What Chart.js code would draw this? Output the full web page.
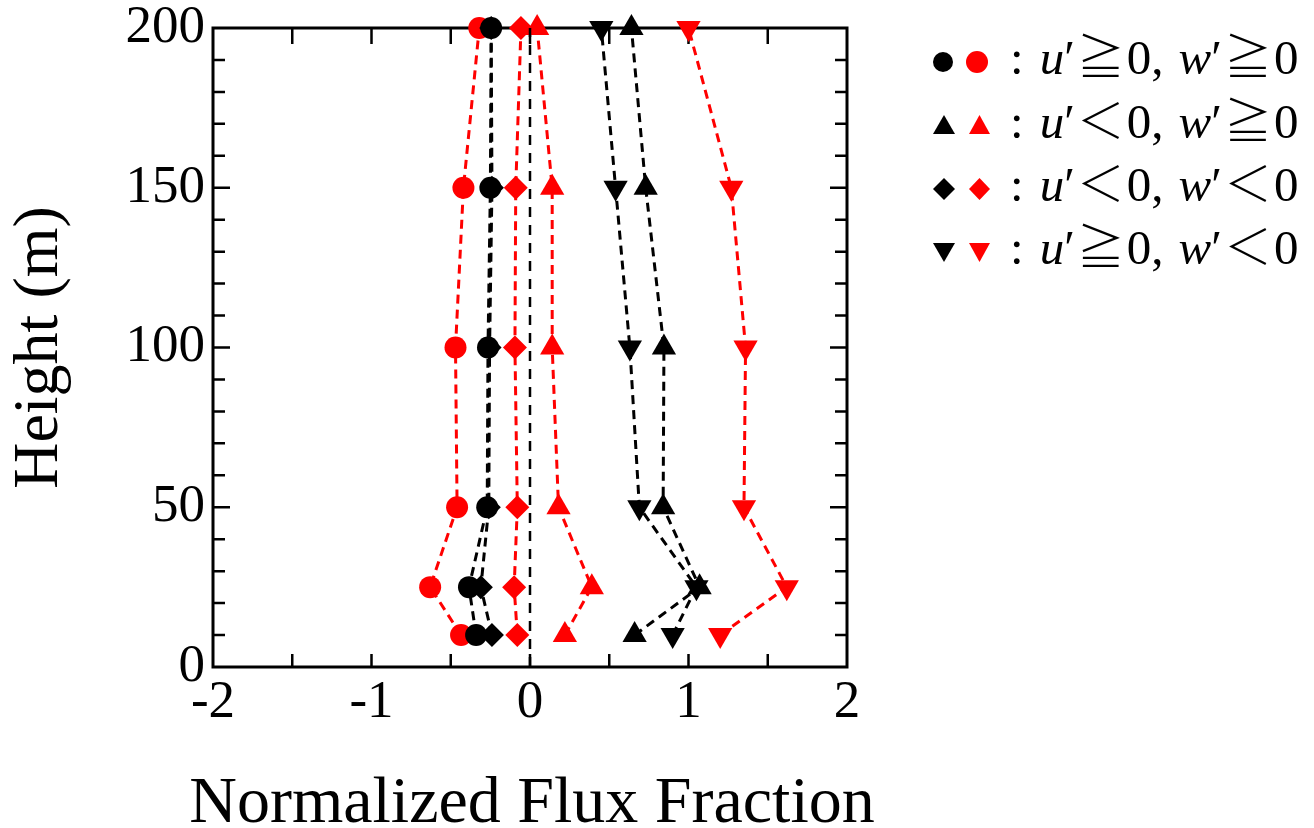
<!DOCTYPE html>
<html>
<head>
<meta charset="utf-8">
<script src="https://cdn.jsdelivr.net/npm/chart.js@4/dist/chart.umd.min.js"></script>
<style>
  html, body { margin: 0; padding: 0; background: #fff; }
  #wrap { position: relative; width: 1314px; height: 828px; overflow: hidden; }
  #legend { position: absolute; left: 0; top: 0; font-family: 'Liberation Serif', 'DejaVu Serif', serif; color: #000; }
  .mk { position: absolute; }
  .circle { border-radius: 50%; }
  .up { clip-path: polygon(50% 0, 100% 100%, 0 100%); }
  .down { clip-path: polygon(0 0, 100% 0, 50% 100%); }
  .diam { clip-path: polygon(50% 0, 100% 50%, 50% 100%, 0 50%); }
  .lbl { position: absolute; left: 1010px; font-size: 49px; line-height: 48px; white-space: nowrap; }
  .lbl i { font-style: italic; }
  .col { margin-right: 16px; }
  .sym { font-family: 'Noto Sans CJK JP', 'DejaVu Sans', sans-serif; font-size: 48px; font-weight: 300; margin: 0 2px 0 2px; }
  .cm { margin-right: 15px; }
</style>
</head>
<body>
<div id="wrap">
  <canvas id="myChart" width="1314" height="828"></canvas>
  <div id="legend">
    <div class="mk circle" style="left:933px;top:52px;width:20px;height:20px;background:#000"></div>
    <div class="mk circle" style="left:966px;top:51px;width:22px;height:22px;background:#f00"></div>
    <div class="lbl" style="top:29px"><span class="col">:</span><i>u</i>′<span class="sym">≧</span>0<span class="cm">,</span><i>w</i>′<span class="sym">≧</span>0</div>

    <div class="mk up" style="left:933px;top:115px;width:22px;height:19px;background:#000"></div>
    <div class="mk up" style="left:969px;top:115px;width:21px;height:19px;background:#f00"></div>
    <div class="lbl" style="top:93px"><span class="col">:</span><i>u</i>′<span class="sym">＜</span>0<span class="cm">,</span><i>w</i>′<span class="sym">≧</span>0</div>

    <div class="mk diam" style="left:933px;top:178px;width:22px;height:22px;background:#000"></div>
    <div class="mk diam" style="left:969px;top:178px;width:21px;height:22px;background:#f00"></div>
    <div class="lbl" style="top:156px"><span class="col">:</span><i>u</i>′<span class="sym">＜</span>0<span class="cm">,</span><i>w</i>′<span class="sym">＜</span>0</div>

    <div class="mk down" style="left:933px;top:243px;width:22px;height:19px;background:#000"></div>
    <div class="mk down" style="left:969px;top:243px;width:21px;height:19px;background:#f00"></div>
    <div class="lbl" style="top:219px"><span class="col">:</span><i>u</i>′<span class="sym">≧</span>0<span class="cm">,</span><i>w</i>′<span class="sym">＜</span>0</div>
  </div>
</div>
<script>
// heights of the measurements (m)
const heights = [10, 25, 50, 100, 150, 200];

// black series
const blackCircle = [-0.34, -0.385, -0.27, -0.265, -0.25, -0.245];
const blackUp = [0.66, 1.07, 0.84, 0.845, 0.73, 0.64];
const blackDiamond = [-0.24, -0.31, -0.26, -0.255, -0.24, -0.245];
const blackDown = [0.90, 1.05, 0.69, 0.63, 0.54, 0.45];

// red series
const redCircle = [-0.435, -0.63, -0.46, -0.47, -0.42, -0.32];
const redUp = [0.22, 0.39, 0.18, 0.14, 0.14, 0.045];
const redDiamond = [-0.08, -0.10, -0.08, -0.095, -0.09, -0.057];
const redDown = [1.20, 1.62, 1.35, 1.36, 1.27, 1.00];

// zero reference line
const zeroX = [0, 0];
const zeroY = [0, 200];

const FONT = "'Liberation Serif', 'Times New Roman', serif";
const xTitle = 'Normalized Flux Fraction';

function series(vals, color, style, radius, rotation) {
    return {
        data: vals.map((v, i) => ({ x: v, y: heights[i] })),
        borderColor: color,
        backgroundColor: color,
        borderWidth: 3,
        borderDash: [9, 6],
        pointStyle: style,
        pointRadius: radius,
        pointRotation: rotation || 0,
        pointBorderWidth: 0,
        pointBorderColor: color,
        pointBackgroundColor: color,
        showLine: true,
        tension: 0,
        clip: false,
    };
}

// frame, inward ticks and the x title (chart.js squeezes it to the axis width)
const frameTicks = {
    id: 'frameTicks',
    beforeDatasetsDraw(chart) {
        const { ctx, chartArea: a, scales: { x, y } } = chart;
        ctx.save();
        ctx.strokeStyle = '#000';
        ctx.lineWidth = 2.5;
        for (let v = -1.5; v <= 1.5; v += 0.5) {
            const px = x.getPixelForValue(v);
            ctx.beginPath();
            ctx.moveTo(px, a.bottom); ctx.lineTo(px, a.bottom - 13);
            ctx.moveTo(px, a.top); ctx.lineTo(px, a.top + 16);
            ctx.stroke();
        }
        for (let v = 10; v < 200; v += 10) {
            const py = y.getPixelForValue(v);
            const len = v % 50 === 0 ? 17 : 12;
            ctx.beginPath();
            ctx.moveTo(a.left, py); ctx.lineTo(a.left + len, py);
            ctx.moveTo(a.right, py); ctx.lineTo(a.right - len, py);
            ctx.stroke();
        }
        ctx.lineWidth = 3;
        ctx.strokeRect(a.left, a.top, a.right - a.left, a.bottom - a.top);

        ctx.fillStyle = '#000';
        ctx.font = "66px " + FONT;
        ctx.textAlign = 'center';
        ctx.textBaseline = 'alphabetic';
        ctx.fillText(xTitle, (a.left + a.right) / 2 + 2, 822);
        ctx.restore();
    }
};

const ctx = document.getElementById('myChart');
new Chart(ctx, {
    type: 'scatter',
    data: {
        datasets: [
            {
                data: zeroX.map((v, i) => ({ x: v, y: zeroY[i] })),
                borderColor: '#000',
                borderWidth: 2.5,
                borderDash: [10, 8],
                pointRadius: 0,
                showLine: true,
            },
            series(blackCircle, '#000', 'circle', 11),
            series(blackDiamond, '#000', 'rectRot', 12),
            series(blackUp, '#000', 'triangle', 14),
            series(blackDown, '#000', 'triangle', 14, 180),
            series(redCircle, '#ff0000', 'circle', 11),
            series(redDiamond, '#ff0000', 'rectRot', 12),
            series(redUp, '#ff0000', 'triangle', 14),
            series(redDown, '#ff0000', 'triangle', 14, 180),
        ]
    },
    options: {
        responsive: false,
        animation: false,
        layout: { padding: { left: 0, top: 28, right: 467, bottom: 0 } },
        plugins: { legend: { display: false }, tooltip: { enabled: false } },
        scales: {
            x: {
                type: 'linear',
                min: -2,
                max: 2,
                ticks: {
                    stepSize: 1,
                    color: '#000',
                    padding: 10,
                    font: { family: FONT, size: 53, lineHeight: 1 }
                },
                grid: { display: false, drawTicks: false },
                border: { display: false },
                afterFit(scale) {
                    scale.height = 161;
                    scale.paddingLeft = 0;
                    scale.paddingRight = 0;
                }
            },
            y: {
                type: 'linear',
                min: 0,
                max: 200,
                ticks: {
                    stepSize: 50,
                    color: '#000',
                    padding: 8,
                    font: { family: FONT, size: 53, lineHeight: 1 }
                },
                grid: { display: false, drawTicks: false },
                border: { display: false },
                title: {
                    display: true,
                    text: 'Height (m)',
                    color: '#000',
                    padding: { top: 8, bottom: 0 },
                    font: { family: FONT, size: 64, lineHeight: 1 }
                },
                afterFit(scale) {
                    scale.width = 213;
                    scale.paddingTop = 0;
                    scale.paddingBottom = 0;
                }
            }
        }
    },
    plugins: [frameTicks]
});
</script>
</body>
</html>
